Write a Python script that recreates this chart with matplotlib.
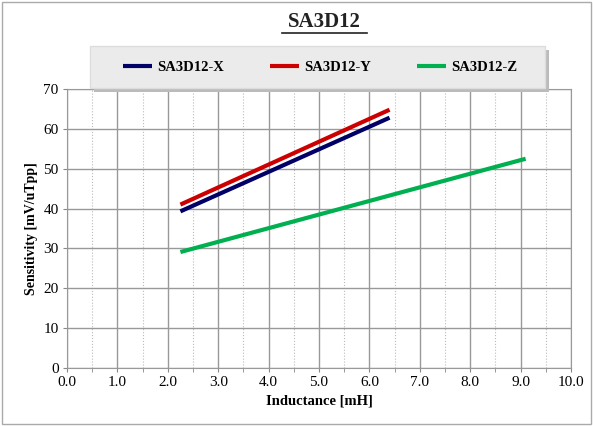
import matplotlib.pyplot as plt
from matplotlib.patches import Rectangle

# data
x_ind = [2.25, 6.4]
y_x = [39.3, 62.8]
y_y = [41.0, 64.8]
z_ind = [2.25, 9.1]
y_z = [29.1, 52.5]

plt.rcParams['font.family'] = ['Liberation Serif', 'DejaVu Serif']

fig = plt.figure(figsize=(5.93, 4.26), dpi=100)
ax = fig.add_axes([67 / 593, 1 - 368 / 426, 504 / 593, 279 / 426])

ax.plot(x_ind, y_x, color='#000066', lw=3, label='SA3D12-X', solid_capstyle='butt')
ax.plot(x_ind, y_y, color='#cc0000', lw=3, label='SA3D12-Y', solid_capstyle='butt')
ax.plot(z_ind, y_z, color='#00b050', lw=3, label='SA3D12-Z', solid_capstyle='butt')

ax.set_xlim(0, 10)
ax.set_ylim(0, 70)
ax.set_xticks([i for i in range(11)])
ax.set_xticklabels([f'{i:.1f}' for i in range(11)])
ax.set_xticks([i + 0.5 for i in range(10)], minor=True)
ax.set_yticks(range(0, 71, 10))
ax.grid(which='major', color='#999999', lw=1)
ax.grid(which='minor', axis='x', color='#bbbbbb', lw=0.8, ls=':')
ax.set_axisbelow(True)
for s in ax.spines.values():
    s.set_color('#999999')
ax.tick_params(which='both', length=3, color='#888888', labelsize=11, pad=3)

ax.set_xlabel('Inductance [mH]', fontsize=10.5, fontweight='bold')
ax.set_ylabel('Sensitivity [mV/uTpp]', fontsize=10, fontweight='bold')

fig.text(324 / 593, 1 - 22 / 426, 'SA3D12', ha='center', va='center',
         fontsize=15, fontweight='bold', color='#222222')
fig.add_artist(plt.Line2D([282 / 593, 367 / 593], [1 - 33 / 426] * 2,
                          color='#222222', lw=1.2))

# legend box drawn by hand so its padding matches the reference
fig.add_artist(Rectangle((94 / 593, 1 - 92 / 426), 455 / 593, 42 / 426,
                         transform=fig.transFigure, facecolor='#bbbbbb',
                         edgecolor='none', zorder=3))
fig.add_artist(Rectangle((90 / 593, 1 - 88 / 426), 455 / 593, 42 / 426,
                         transform=fig.transFigure, facecolor='#ebebeb',
                         edgecolor='#dddddd', zorder=3))
leg = fig.legend(loc='center', bbox_to_anchor=(320 / 593, 1 - 67 / 426),
                 ncol=3, frameon=False, fontsize=10.5, handlelength=2.0,
                 columnspacing=3.2, handletextpad=0.3,
                 prop={'weight': 'bold', 'size': 10.5})
leg.set_zorder(4)

fig.add_artist(Rectangle((0.004, 0.004), 0.992, 0.992, transform=fig.transFigure,
                         fill=False, edgecolor='#aaaaaa', lw=1))

fig.savefig('out.png', dpi=100)
